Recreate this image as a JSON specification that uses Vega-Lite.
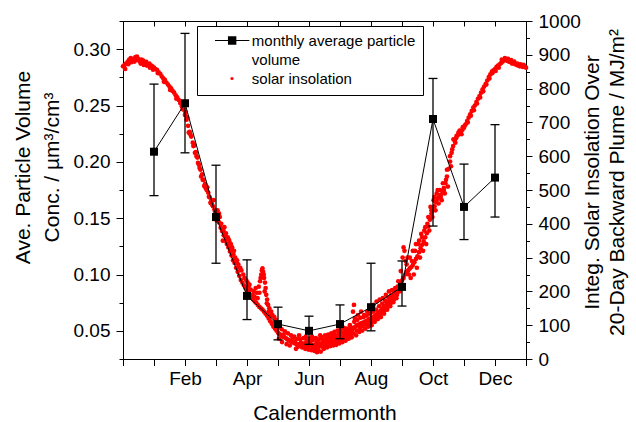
{
  "$schema": "https://vega.github.io/schema/vega-lite/v6.json",
  "width": 403,
  "height": 338,
  "autosize": {"type": "none"},
  "padding": {"left": 123, "top": 21, "right": 110, "bottom": 63},
  "datasets": {
    "insolation": [
      {"m":0.00,"s":866},{"m":0.05,"s":870},{"m":0.10,"s":874},{"m":0.15,"s":879},{"m":0.20,"s":886},{"m":0.25,"s":890},{"m":0.30,"s":884},{"m":0.35,"s":888},{"m":0.40,"s":893},{"m":0.45,"s":895},
      {"m":0.50,"s":887},{"m":0.55,"s":881},{"m":0.60,"s":886},{"m":0.65,"s":883},{"m":0.70,"s":876},{"m":0.75,"s":879},{"m":0.80,"s":872},{"m":0.85,"s":874},{"m":0.90,"s":869},{"m":0.95,"s":866},
      {"m":1.00,"s":862},{"m":1.05,"s":858},{"m":1.10,"s":855},{"m":1.15,"s":848},{"m":1.20,"s":844},{"m":1.25,"s":836},{"m":1.30,"s":830},{"m":1.35,"s":826},{"m":1.40,"s":818},{"m":1.45,"s":812},
      {"m":1.50,"s":806},{"m":1.55,"s":801},{"m":1.60,"s":793},{"m":1.65,"s":788},{"m":1.70,"s":780},{"m":1.75,"s":774},{"m":1.80,"s":766},{"m":1.85,"s":757},{"m":1.90,"s":748},{"m":1.95,"s":738},
      {"m":2.00,"s":722},{"m":2.05,"s":708},{"m":2.10,"s":690},{"m":2.15,"s":672},{"m":2.20,"s":658},{"m":2.25,"s":640},{"m":2.30,"s":632},{"m":2.35,"s":612},{"m":2.40,"s":596},{"m":2.45,"s":575},
      {"m":2.50,"s":560},{"m":2.55,"s":546},{"m":2.60,"s":530},{"m":2.65,"s":518},{"m":2.70,"s":500},{"m":2.75,"s":492},{"m":2.80,"s":478},{"m":2.85,"s":468},{"m":2.90,"s":452},{"m":2.95,"s":442},
      {"m":3.00,"s":430},{"m":3.05,"s":418},{"m":3.10,"s":404},{"m":3.15,"s":388},{"m":3.20,"s":378},{"m":3.25,"s":366},{"m":3.30,"s":350},{"m":3.35,"s":340},{"m":3.40,"s":330},{"m":3.45,"s":318},
      {"m":3.50,"s":306},{"m":3.55,"s":292},{"m":3.60,"s":284},{"m":3.65,"s":270},{"m":3.70,"s":258},{"m":3.75,"s":246},{"m":3.80,"s":234},{"m":3.85,"s":226},{"m":3.90,"s":218},{"m":3.95,"s":210},
      {"m":4.00,"s":204},{"m":4.05,"s":198},{"m":4.10,"s":190},{"m":4.15,"s":184},{"m":4.20,"s":176},{"m":4.25,"s":170},{"m":4.30,"s":166},{"m":4.35,"s":160},{"m":4.40,"s":154},{"m":4.45,"s":150},
      {"m":4.50,"s":146},{"m":4.55,"s":140},{"m":4.60,"s":134},{"m":4.65,"s":128},{"m":4.70,"s":120},{"m":4.75,"s":112},{"m":4.80,"s":104},{"m":4.85,"s":96},{"m":4.90,"s":90},{"m":4.95,"s":84},
      {"m":5.00,"s":78},{"m":5.05,"s":74},{"m":5.10,"s":70},{"m":5.15,"s":66},{"m":5.20,"s":64},{"m":5.25,"s":62},{"m":5.30,"s":58},{"m":5.35,"s":56},{"m":5.40,"s":52},{"m":5.45,"s":50},
      {"m":5.50,"s":48},{"m":5.55,"s":46},{"m":5.60,"s":44},{"m":5.65,"s":42},{"m":5.70,"s":44},{"m":5.75,"s":40},{"m":5.80,"s":42},{"m":5.85,"s":46},{"m":5.90,"s":44},{"m":5.95,"s":48},
      {"m":6.00,"s":42},{"m":6.05,"s":40},{"m":6.10,"s":38},{"m":6.15,"s":42},{"m":6.20,"s":36},{"m":6.25,"s":40},{"m":6.30,"s":34},{"m":6.35,"s":38},{"m":6.40,"s":44},{"m":6.45,"s":48},
      {"m":6.50,"s":50},{"m":6.55,"s":46},{"m":6.60,"s":52},{"m":6.65,"s":50},{"m":6.70,"s":56},{"m":6.75,"s":54},{"m":6.80,"s":58},{"m":6.85,"s":60},{"m":6.90,"s":56},{"m":6.95,"s":62},
      {"m":7.00,"s":64},{"m":7.05,"s":66},{"m":7.10,"s":62},{"m":7.15,"s":70},{"m":7.20,"s":72},{"m":7.25,"s":74},{"m":7.30,"s":78},{"m":7.35,"s":82},{"m":7.40,"s":88},{"m":7.45,"s":92},
      {"m":7.50,"s":96},{"m":7.55,"s":100},{"m":7.60,"s":102},{"m":7.65,"s":104},{"m":7.70,"s":106},{"m":7.75,"s":108},{"m":7.80,"s":110},{"m":7.85,"s":112},{"m":7.90,"s":114},{"m":7.95,"s":118},
      {"m":8.00,"s":120},{"m":8.05,"s":122},{"m":8.10,"s":126},{"m":8.15,"s":130},{"m":8.20,"s":134},{"m":8.25,"s":138},{"m":8.30,"s":142},{"m":8.35,"s":148},{"m":8.40,"s":152},{"m":8.45,"s":156},
      {"m":8.50,"s":162},{"m":8.55,"s":168},{"m":8.60,"s":174},{"m":8.65,"s":178},{"m":8.70,"s":184},{"m":8.75,"s":190},{"m":8.80,"s":198},{"m":8.85,"s":206},{"m":8.90,"s":214},{"m":8.95,"s":222},
      {"m":9.00,"s":232},{"m":9.05,"s":240},{"m":9.10,"s":250},{"m":9.15,"s":258},{"m":9.20,"s":262},{"m":9.25,"s":268},{"m":9.30,"s":272},{"m":9.35,"s":278},{"m":9.40,"s":286},{"m":9.45,"s":296},
      {"m":9.50,"s":304},{"m":9.55,"s":316},{"m":9.60,"s":328},{"m":9.65,"s":338},{"m":9.70,"s":348},{"m":9.75,"s":360},{"m":9.80,"s":372},{"m":9.85,"s":392},{"m":9.90,"s":412},{"m":9.95,"s":430},
      {"m":10.00,"s":440},{"m":10.05,"s":452},{"m":10.10,"s":464},{"m":10.15,"s":474},{"m":10.20,"s":480},{"m":10.25,"s":486},{"m":10.30,"s":496},{"m":10.35,"s":506},{"m":10.40,"s":520},{"m":10.45,"s":540},
      {"m":10.50,"s":562},{"m":10.55,"s":584},{"m":10.60,"s":610},{"m":10.65,"s":630},{"m":10.70,"s":646},{"m":10.75,"s":654},{"m":10.80,"s":662},{"m":10.85,"s":668},{"m":10.90,"s":672},{"m":10.95,"s":678},
      {"m":11.00,"s":684},{"m":11.05,"s":694},{"m":11.10,"s":704},{"m":11.15,"s":714},{"m":11.20,"s":724},{"m":11.25,"s":734},{"m":11.30,"s":744},{"m":11.35,"s":750},{"m":11.40,"s":760},{"m":11.45,"s":770},
      {"m":11.50,"s":778},{"m":11.55,"s":788},{"m":11.60,"s":798},{"m":11.65,"s":806},{"m":11.70,"s":814},{"m":11.75,"s":824},{"m":11.80,"s":834},{"m":11.85,"s":842},{"m":11.90,"s":850},{"m":11.95,"s":854},
      {"m":12.00,"s":858},{"m":12.05,"s":864},{"m":12.10,"s":868},{"m":12.15,"s":872},{"m":12.20,"s":876},{"m":12.25,"s":880},{"m":12.30,"s":884},{"m":12.35,"s":886},{"m":12.40,"s":882},{"m":12.45,"s":880},
      {"m":12.50,"s":878},{"m":12.55,"s":874},{"m":12.60,"s":876},{"m":12.65,"s":872},{"m":12.70,"s":870},{"m":12.75,"s":868},{"m":12.80,"s":866},{"m":12.85,"s":868},{"m":12.90,"s":864},{"m":12.95,"s":866},
      {"m":13.00,"s":862},
      {"m":0.07,"s":858},{"m":0.17,"s":872},{"m":0.27,"s":878},{"m":0.37,"s":880},{"m":0.47,"s":884},{"m":0.57,"s":874},{"m":0.67,"s":870},{"m":0.77,"s":868},{"m":0.87,"s":862},{"m":0.97,"s":856},
      {"m":1.12,"s":846},{"m":1.32,"s":820},{"m":1.52,"s":796},{"m":1.72,"s":770},{"m":1.92,"s":740},{"m":2.12,"s":670},{"m":2.32,"s":610},{"m":2.42,"s":580},{"m":2.52,"s":540},
      {"m":2.02,"s":730},{"m":2.07,"s":715},{"m":2.17,"s":665},{"m":2.27,"s":630},{"m":2.37,"s":600},{"m":2.47,"s":565},{"m":2.57,"s":530},{"m":2.67,"s":505},{"m":2.77,"s":480},{"m":2.87,"s":458},{"m":2.97,"s":436},
      {"m":2.62,"s":512},{"m":2.72,"s":508},{"m":2.82,"s":462},{"m":2.92,"s":470},{"m":3.02,"s":410},{"m":3.12,"s":420},{"m":3.22,"s":350},{"m":3.27,"s":390},{"m":3.32,"s":372},{"m":3.38,"s":360},
      {"m":3.05,"s":440},{"m":3.10,"s":430},{"m":3.17,"s":400},{"m":3.24,"s":380},{"m":3.30,"s":365},{"m":3.35,"s":355},{"m":3.44,"s":345},{"m":3.50,"s":322},{"m":3.56,"s":310},{"m":3.64,"s":286},{"m":3.70,"s":270},
      {"m":3.42,"s":352},{"m":3.48,"s":340},{"m":3.52,"s":330},{"m":3.58,"s":320},{"m":3.62,"s":300},{"m":3.68,"s":292},{"m":3.72,"s":280},{"m":3.78,"s":270},{"m":3.82,"s":262},{"m":3.88,"s":250},
      {"m":3.92,"s":240},{"m":3.98,"s":232},{"m":4.02,"s":226},{"m":4.08,"s":220},{"m":4.22,"s":200},{"m":4.28,"s":210},{"m":4.32,"s":196},{"m":4.38,"s":214},{"m":4.42,"s":230},{"m":4.46,"s":250},
      {"m":4.50,"s":268},{"m":4.52,"s":258},{"m":4.55,"s":240},{"m":4.58,"s":226},{"m":4.60,"s":210},{"m":4.62,"s":190},{"m":4.65,"s":176},{"m":4.68,"s":160},{"m":4.72,"s":150},{"m":4.78,"s":140},
      {"m":4.82,"s":130},{"m":4.88,"s":124},{"m":4.92,"s":116},{"m":4.95,"s":104},{"m":5.05,"s":96},{"m":5.12,"s":88},
      {"m":4.05,"s":215},{"m":4.12,"s":205},{"m":4.18,"s":190},{"m":4.24,"s":185},{"m":4.34,"s":180},{"m":4.40,"s":196},{"m":4.44,"s":240},{"m":4.48,"s":262},{"m":4.54,"s":250},{"m":4.57,"s":200},
      {"m":4.64,"s":165},{"m":4.70,"s":140},{"m":4.76,"s":128},{"m":4.84,"s":108},{"m":4.90,"s":100},{"m":4.98,"s":92},
      {"m":5.22,"s":82},{"m":5.32,"s":76},{"m":5.42,"s":70},{"m":5.52,"s":66},{"m":5.58,"s":30},{"m":5.62,"s":60},{"m":5.72,"s":58},{"m":5.78,"s":34},{"m":5.82,"s":62},{"m":5.88,"s":30},
      {"m":5.92,"s":56},{"m":5.98,"s":28},{"m":6.02,"s":60},{"m":6.08,"s":26},{"m":6.12,"s":56},{"m":6.18,"s":24},{"m":6.22,"s":62},{"m":6.28,"s":28},{"m":6.32,"s":58},{"m":6.38,"s":22},
      {"m":6.42,"s":64},{"m":6.48,"s":30},{"m":6.52,"s":70},{"m":6.58,"s":34},{"m":6.62,"s":72},{"m":6.68,"s":38},{"m":6.72,"s":76},{"m":6.78,"s":40},{"m":6.82,"s":80},{"m":6.88,"s":42},
      {"m":6.92,"s":84},{"m":6.98,"s":46},{"m":7.02,"s":88},{"m":7.08,"s":50},{"m":7.12,"s":92},{"m":7.18,"s":54},{"m":7.22,"s":90},{"m":7.28,"s":60},{"m":7.32,"s":100},{"m":7.38,"s":64},
      {"m":5.03,"s":60},{"m":5.13,"s":50},{"m":5.18,"s":72},{"m":5.28,"s":44},{"m":5.38,"s":40},{"m":5.47,"s":62},{"m":5.55,"s":52},{"m":5.64,"s":36},{"m":5.68,"s":70},{"m":5.74,"s":48},
      {"m":5.84,"s":38},{"m":5.90,"s":66},{"m":5.96,"s":36},{"m":6.04,"s":50},{"m":6.10,"s":66},{"m":6.16,"s":30},{"m":6.24,"s":50},{"m":6.26,"s":20},{"m":6.34,"s":46},{"m":6.36,"s":70},
      {"m":6.44,"s":36},{"m":6.46,"s":56},{"m":6.54,"s":40},{"m":6.56,"s":60},{"m":6.64,"s":44},{"m":6.66,"s":64},{"m":6.74,"s":48},{"m":6.76,"s":68},{"m":6.84,"s":50},{"m":6.86,"s":70},
      {"m":6.94,"s":52},{"m":6.96,"s":74},{"m":7.04,"s":56},{"m":7.06,"s":78},{"m":7.14,"s":58},{"m":7.16,"s":82},{"m":7.24,"s":64},{"m":7.26,"s":86},{"m":7.34,"s":70},{"m":7.36,"s":92},
      {"m":7.44,"s":76},{"m":7.46,"s":110},{"m":7.54,"s":84},{"m":7.56,"s":116},{"m":7.64,"s":92},{"m":7.66,"s":122},{"m":7.74,"s":98},{"m":7.76,"s":124},{"m":7.84,"s":102},{"m":7.86,"s":128},
      {"m":7.94,"s":106},{"m":7.96,"s":134},{"m":8.04,"s":112},{"m":8.06,"s":140},{"m":8.14,"s":120},{"m":8.16,"s":146},{"m":8.24,"s":128},{"m":8.26,"s":156},{"m":8.34,"s":136},{"m":8.36,"s":164},
      {"m":8.44,"s":144},{"m":8.46,"s":172},{"m":8.54,"s":154},{"m":8.56,"s":182},{"m":8.64,"s":166},{"m":8.66,"s":190},{"m":8.74,"s":176},{"m":8.76,"s":198},{"m":8.84,"s":190},{"m":8.86,"s":214},
      {"m":7.42,"s":140},{"m":7.45,"s":160},{"m":7.48,"s":120},{"m":7.52,"s":70},{"m":7.58,"s":130},{"m":7.62,"s":80},{"m":7.68,"s":140},{"m":7.72,"s":84},{"m":7.78,"s":130},{"m":7.82,"s":90},
      {"m":7.88,"s":140},{"m":7.92,"s":96},{"m":7.98,"s":150},{"m":8.02,"s":100},{"m":8.08,"s":160},{"m":8.12,"s":110},{"m":8.18,"s":170},{"m":8.22,"s":118},{"m":8.28,"s":176},{"m":8.32,"s":124},
      {"m":8.38,"s":180},{"m":8.42,"s":134},{"m":8.48,"s":190},{"m":8.52,"s":146},{"m":8.58,"s":200},{"m":8.62,"s":156},{"m":8.68,"s":204},{"m":8.72,"s":168},
      {"m":8.78,"s":210},{"m":8.82,"s":180},{"m":8.88,"s":230},{"m":8.92,"s":200},{"m":8.96,"s":260},{"m":9.02,"s":300},{"m":9.05,"s":330},{"m":9.08,"s":320},{"m":9.12,"s":290},{"m":9.18,"s":300},
      {"m":9.22,"s":250},{"m":9.28,"s":240},{"m":9.32,"s":290},{"m":9.38,"s":250},{"m":9.42,"s":320},{"m":9.48,"s":270},{"m":9.52,"s":340},{"m":9.58,"s":300},{"m":9.62,"s":370},{"m":9.68,"s":320},
      {"m":9.72,"s":380},{"m":9.78,"s":340},{"m":9.82,"s":400},{"m":9.88,"s":380},
      {"m":9.15,"s":280},{"m":9.25,"s":300},{"m":9.35,"s":320},{"m":9.45,"s":340},{"m":9.55,"s":350},{"m":9.65,"s":360},{"m":9.75,"s":390},{"m":9.85,"s":420},{"m":9.95,"s":440},{"m":10.05,"s":480},
      {"m":10.15,"s":500},{"m":10.25,"s":480},{"m":10.35,"s":500},{"m":10.45,"s":560},{"m":10.55,"s":600},{"m":10.58,"s":570},
      {"m":9.92,"s":450},{"m":9.98,"s":420},{"m":10.02,"s":470},{"m":10.08,"s":440},{"m":10.12,"s":490},{"m":10.18,"s":460},{"m":10.22,"s":500},{"m":10.28,"s":470},{"m":10.32,"s":520},{"m":10.38,"s":490},
      {"m":10.42,"s":530},{"m":10.48,"s":510},
      {"m":10.62,"s":620},{"m":10.66,"s":650},{"m":10.72,"s":640},{"m":10.76,"s":660},{"m":10.82,"s":670},{"m":10.86,"s":676},{"m":10.92,"s":665},{"m":10.96,"s":686},
      {"m":11.02,"s":690},{"m":11.12,"s":700},{"m":11.22,"s":720},{"m":11.32,"s":736},{"m":11.42,"s":756},{"m":11.52,"s":774},
      {"m":11.62,"s":792},{"m":11.72,"s":812},{"m":11.82,"s":830},{"m":11.92,"s":846},{"m":12.02,"s":852},{"m":12.12,"s":862},{"m":12.22,"s":886},{"m":12.32,"s":890},{"m":12.42,"s":888},{"m":12.52,"s":884},
      {"m":12.62,"s":880},{"m":12.72,"s":874},{"m":12.82,"s":872},{"m":12.92,"s":870}
    ],
    "monthly": [
      {"m":1,"v":0.209,"lo":0.170,"hi":0.269},
      {"m":2,"v":0.252,"lo":0.208,"hi":0.314},
      {"m":3,"v":0.151,"lo":0.110,"hi":0.197},
      {"m":4,"v":0.081,"lo":0.060,"hi":0.113},
      {"m":5,"v":0.056,"lo":0.042,"hi":0.071},
      {"m":6,"v":0.050,"lo":0.038,"hi":0.063},
      {"m":7,"v":0.056,"lo":0.043,"hi":0.073},
      {"m":8,"v":0.071,"lo":0.050,"hi":0.110},
      {"m":9,"v":0.089,"lo":0.072,"hi":0.112},
      {"m":10,"v":0.238,"lo":0.143,"hi":0.274},
      {"m":11,"v":0.160,"lo":0.131,"hi":0.198},
      {"m":12,"v":0.186,"lo":0.151,"hi":0.233}
    ]
  },
  "layer": [
    {
      "data": {"name": "insolation"},
      "mark": {"type": "circle", "size": 22, "opacity": 1},
      "encoding": {
        "x": {
          "field": "m", "type": "quantitative",
          "scale": {"domain": [0, 13], "nice": false, "zero": false},
          "axis": {
            "orient": "bottom",
            "values": [0,1,2,3,4,5,6,7,8,9,10,11,12,13],
            "labelExpr": "datum.value % 2 === 0 && datum.value > 0 && datum.value < 13 ? ['','Jan','Feb','Mar','Apr','May','Jun','Jul','Aug','Sep','Oct','Nov','Dec'][datum.value] : ''",
            "labelOverlap": false,
            "tickSize": 6.5,
            "labelPadding": 4,
            "title": "Calendermonth",
            "titleY": 60,
            "titleBaseline": "alphabetic"
          }
        },
        "y": {
          "field": "s", "type": "quantitative",
          "scale": {"domain": [0, 1000], "nice": false},
          "axis": {
            "orient": "right",
            "values": [0,50,100,150,200,250,300,350,400,450,500,550,600,650,700,750,800,850,900,950,1000],
            "format": "d",
            "labelExpr": "datum.value % 100 === 0 ? datum.label : ''",
            "labelOverlap": false,
            "tickSize": {"condition": {"test": "datum.value % 100 === 0", "value": 6}, "value": 3.5},
            "labelPadding": 6,
            "title": ["Integ. Solar Insolation Over", "20-Day Backward Plume / MJ/m²"],
            "titleAngle": 270,
            "titleAlign": "center",
            "titleBaseline": "top",
            "titleLineHeight": 25,
            "titleX": 55,
            "titleY": 161
          }
        },
        "color": {
          "datum": "solar insolation", "type": "nominal",
          "scale": {"domain": ["solar insolation"], "range": ["#ff0000"]},
          "legend": {
            "orient": "none",
            "legendX": 107,
            "legendY": 55.5,
            "title": null,
            "padding": 0,
            "symbolType": "circle",
            "symbolSize": 10,
            "symbolStrokeWidth": 0,
            "labelExpr": "''",
            "labelFontSize": 1,
            "labelOffset": 0
          }
        }
      }
    },
    {
      "data": {"name": "monthly"},
      "encoding": {
        "x": {
          "field": "m", "type": "quantitative",
          "scale": {"domain": [0, 13], "nice": false, "zero": false},
          "axis": {
            "orient": "top",
            "values": [0,1,2,3,4,5,6,7,8,9,10,11,12,13],
            "labels": false,
            "domain": false,
            "offset": -5,
            "tickSize": 5,
            "title": null
          }
        }
      },
      "layer": [
        {
          "mark": {"type": "rule", "color": "#000000", "strokeWidth": 1.3},
          "encoding": {
            "y": {
              "field": "lo", "type": "quantitative",
              "scale": {"domain": [0.025, 0.325], "nice": false, "zero": false},
              "axis": {
                "orient": "left",
                "values": [0.05,0.1,0.15,0.2,0.25,0.3],
                "format": ".2f",
                "labelOverlap": false,
                "tickSize": 7,
                "labelPadding": 6,
                "title": ["Ave. Particle Volume", "Conc. / µm³/cm³"],
                "titleBaseline": "alphabetic",
                "titleLineHeight": 29,
                "titleX": -94,
                "titleY": 146
              }
            },
            "y2": {"field": "hi"}
          }
        },
        {
          "mark": {"type": "tick", "orient": "horizontal", "color": "#000000", "thickness": 1.3, "size": 9, "opacity": 1},
          "encoding": {"y": {"field": "lo", "type": "quantitative"}}
        },
        {
          "mark": {"type": "line", "color": "#000000", "strokeWidth": 1},
          "encoding": {"y": {"field": "v", "type": "quantitative"}}
        },
        {
          "mark": {"type": "point", "shape": "square", "filled": true, "size": 64, "color": "#000000"},
          "encoding": {
            "y": {"field": "v", "type": "quantitative"},
            "opacity": {
              "datum": "monthly average particle", "type": "nominal",
              "scale": {"type": "point", "domain": ["monthly average particle", "volume", "solar insolation"], "range": [1, -1], "padding": 0},
              "legend": {
                "orient": "none",
                "legendX": 74,
                "legendY": 5,
                "title": null,
                "strokeColor": "#000000",
                "padding": 7,
                "rowPadding": 3.4,
                "symbolOffset": 20.65,
                "labelOffset": 12.2,
                "symbolType": "M-2.29,-0.07H2.29V0.07H-2.29ZM-0.56,-0.56H0.56V0.56H-0.56Z",
                "symbolSize": 225,
                "symbolStrokeWidth": 0,
                "symbolFillColor": "#000000",
                "labelFont": "Liberation Sans",
                "labelFontSize": 15,
                "labelColor": "#000000",
                "labelLimit": 400
              }
            }
          }
        }
      ]
    },
    {
      "data": {"name": "monthly"},
      "mark": {"type": "tick", "orient": "horizontal", "color": "#000000", "thickness": 1.3, "size": 9, "opacity": 1},
      "encoding": {
        "x": {"field": "m", "type": "quantitative", "scale": {"domain": [0, 13], "nice": false, "zero": false}, "axis": null},
        "y": {
          "field": "hi", "type": "quantitative",
          "scale": {"domain": [0.025, 0.325], "nice": false, "zero": false},
          "axis": {
            "orient": "left",
            "values": [0.025,0.075,0.125,0.175,0.225,0.275,0.325],
            "labels": false,
            "domain": false,
            "tickSize": 4,
            "title": null
          }
        }
      }
    }
  ],
  "resolve": {"scale": {"y": "independent"}, "axis": {"x": "independent"}},
  "config": {
    "background": "#ffffff",
    "view": {"stroke": "#000000", "strokeWidth": 1},
    "axis": {
      "grid": false,
      "domainColor": "#000000",
      "domainWidth": 1,
      "tickColor": "#000000",
      "tickWidth": 1,
      "labelFont": "Liberation Sans",
      "labelFontSize": 19,
      "labelColor": "#000000",
      "titleFont": "Liberation Sans",
      "titleFontSize": 21,
      "titleFontWeight": "normal",
      "titleColor": "#000000",
      "titleLineHeight": 27
    }
  }
}
